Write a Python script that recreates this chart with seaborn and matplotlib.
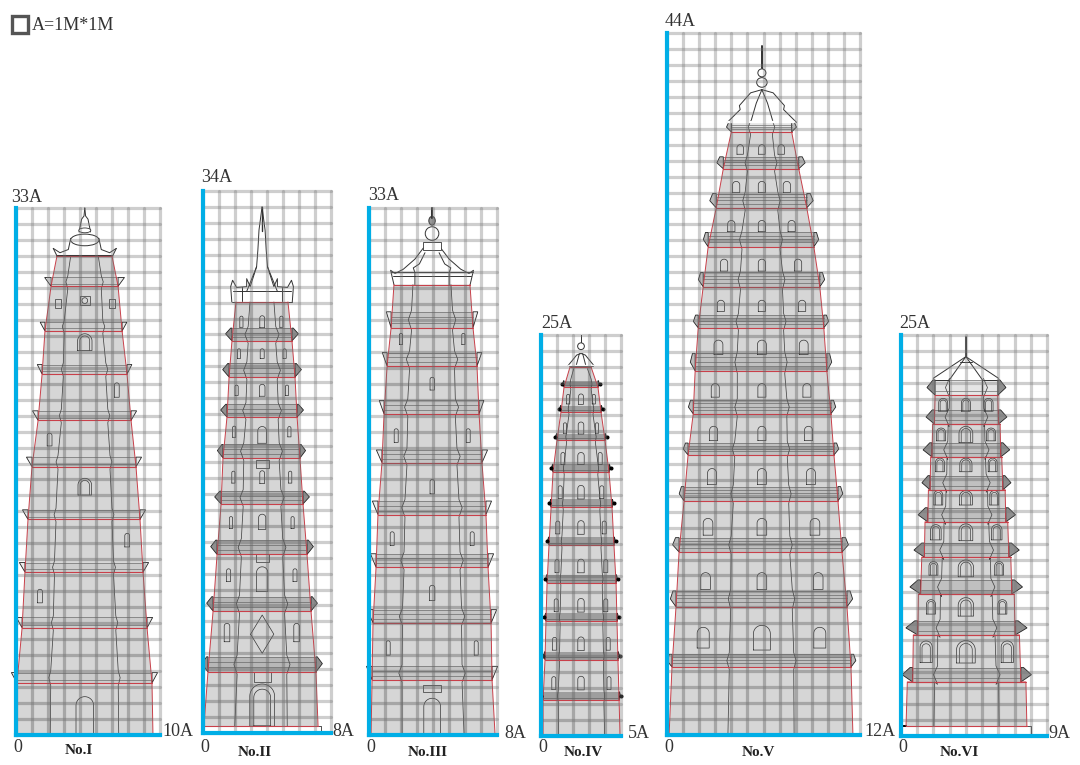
import numpy as np
import matplotlib
matplotlib.use("Agg")
import matplotlib.pyplot as plt
from matplotlib.patches import Rectangle, Ellipse
import seaborn as sns

W, H = 1080, 765
sns.set_theme(style="white")
plt.rcParams['font.family'] = ['Liberation Serif', 'DejaVu Serif']

BLUE = '#00aee6'; RED = '#c9404a'; FILL = '#d6d6d6'; INK = '#333333'

# ---------- Panel I ----------
levels1 = [0, 3.26, 6.71, 10.2, 13.5, 16.8, 19.7, 22.6, 25.3, 28.1, 30.0]
left1 = [0, .06, .38, .56, .75, 1.0, 1.38, 1.63, 1.81, 2.19, 2.56]
right1 = [8.56, 8.5, 8.19, 7.94, 7.75, 7.5, 7.19, 6.94, 6.63, 6.38, 6.0]
eave_h1 = [0, .65, .65, .6, .6, .6, .6, .6, .55, .55, 0]
eave_o1 = [0, .35, .35, .35, .35, .35, .35, .3, .3, .4, 0]
win1_x = [2.63, 4.3, 6.0, 4.3, 6.3, 2.1, 4.3, 6.95, 1.5, 4.3]
win1_y = [27.0, 27.2, 27.0, 24.6, 21.6, 18.5, 15.55, 12.2, 8.7, 1.2]
win1_w = [.38, .65, .38, .9, .3, .3, .85, .3, .3, 1.1]
win1_h = [.55, .6, .55, 1.05, .9, .8, 1.05, .85, .85, 2.4]
win1_k = ['b', 'q', 'b', 'd', 'r', 'r', 'd', 'r', 'r', 'a']
roof1_x = [[2.33, 2.75, 3.27, 3.42], [3.94, 4.1, 4.25, 4.3], [2.56, 2.33]]
roof1_y = [[30.47, 30.2, 30.4, 31.1], [31.5, 32.3, 32.5, 33.0], [30.0, 30.47]]

# ---------- Panel II ----------
levels2 = [.44, 3.83, 7.65, 11.2, 14.37, 17.25, 19.82, 22.33, 24.6, 27.04]
left2 = [.06, .31, .63, .88, 1.13, 1.25, 1.5, 1.63, 1.81, 2.06]
right2 = [7.19, 7.06, 6.75, 6.5, 6.25, 6.06, 5.88, 5.75, 5.56, 5.31]
eave_h2 = [0, .95, .9, .9, .8, .85, .8, .85, .8, 0]
eave_o2 = [0, .4, .4, .4, .4, .35, .4, .4, .4, 0]
win2_x = [2.4, 3.7, 4.9, 2.25, 3.7, 5.1, 2.1, 3.7, 5.25, 1.95, 3.7, 5.4, 3.7, 1.9, 3.7, 5.45,
          1.75, 3.7, 5.6, 3.7, 1.6, 3.7, 5.75, 1.5, 3.7, 5.85, 3.7, 3.7, 3.7]
win2_y = [25.8, 25.8, 25.8, 23.8, 23.8, 23.8, 21.5, 21.5, 21.5, 18.9, 18.7, 18.9, 16.9, 16.05, 16.05, 16.05,
          13.2, 13.25, 13.2, 11.0, 9.9, 9.65, 9.9, 6.3, 6.2, 6.3, 3.5, 1.75, 1.6]
win2_w = [.2, .3, .2, .2, .25, .2, .2, .35, .2, .2, .55, .2, .8, .2, .3, .2,
          .2, .45, .2, .8, .25, .7, .25, .35, 1.45, .35, 1.05, 1.55, 1.05]
win2_h = [.7, .75, .7, .6, .6, .6, .65, .75, .65, .7, 1.05, .65, .5, .75, .8, .75,
          .75, .95, .75, .5, .8, 1.55, .8, 1.15, 2.4, 1.15, .6, 2.65, 2.3]
win2_k = ['r', 'a', 'r', 'r', 'r', 'r', 'r', 'a', 'r', 'r', 'a', 'r', 'b', 'r', 'a', 'r',
          'r', 'a', 'r', 'b', 'r', 'a', 'r', 'r', 'v', 'r', 'b', 'a', 'a']
roof2_x = [[2.73, 3.35, 3.43, 3.5, 3.69], [1.73, 1.85, 2.1, 2.73, 2.73, 2.95, 3.35], [1.8, 1.73], [2.45, 2.45], [1.8, 3.69], [1.85, 3.69]]
roof2_y = [[27.7, 29.25, 30.3, 31.55, 33.0], [28.0, 28.4, 27.95, 28.0, 28.5, 28.0, 29.25], [27.04, 28.0], [27.1, 28.0], [27.04, 27.04], [27.7, 27.7]]

# ---------- Panel III ----------
levels3 = [0, 3.45, 7.0, 10.5, 13.8, 17.05, 20.1, 23.1, 25.5, 28.2]
left3 = [.13, .19, .25, .44, .56, .81, .94, 1.13, 1.38, 1.56]
right3 = [7.88, 7.69, 7.63, 7.44, 7.31, 7.06, 6.88, 6.75, 6.5, 6.31]
eave_h3 = [0, .85, .85, .85, .85, .8, .85, .85, 1.0, 0]
eave_o3 = [0, .35, .35, .35, .35, .35, .3, .3, .3, 0]
win3_x = [2.0, 5.9, 3.95, 1.7, 6.2, 3.95, 1.45, 6.45, 3.95, 1.2, 6.7, 3.95, 3.95]
win3_y = [24.8, 24.8, 22.0, 18.75, 18.75, 15.55, 12.3, 12.3, 8.9, 5.45, 5.45, 2.9, 1.15]
win3_w = [.2, .2, .27, .25, .25, .27, .25, .25, .33, .25, .25, 1.1, 1.05]
win3_h = [.7, .7, .8, .85, .85, .9, .85, .85, .95, .9, .9, .4, 2.3]
win3_k = ['r', 'r', 'r', 'r', 'r', 'r', 'r', 'r', 'r', 'r', 'r', 'b', 'a']
roof3_x = [[1.56, 1.35, 1.63, 2.15, 2.87, 3.4], [2.87, 2.87, 2.77, 3.15, 3.5], [1.35, 3.94], [1.5, 3.94]]
roof3_y = [[28.2, 29.1, 28.9, 29.17, 29.8, 30.5], [28.2, 28.95, 29.25, 29.5, 30.2], [29.0, 29.0], [28.75, 28.75]]

# ---------- Panel IV ----------
levels4 = [0, 2.25, 4.75, 7.15, 9.55, 11.9, 14.25, 16.45, 18.45, 20.2, 21.75, 23.0]
left4 = [.13, .13, .25, .31, .38, .5, .63, .75, 1.0, 1.25, 1.44, 1.81]
right4 = [4.94, 4.88, 4.81, 4.75, 4.69, 4.56, 4.44, 4.25, 4.0, 3.75, 3.56, 3.13]
eave_h4 = [0, .5, .5, .5, .5, .5, .5, .5, .4, .4, .4, 0]
eave_o4 = [0, .1, .1, .1, .1, .1, .1, .1, .1, .1, .1, 0]
win4_x = [1.7, 2.5, 3.3, 1.5, 2.5, 3.5, 1.37, 2.5, 3.7, 1.2, 2.5, 3.8, 1.05, 2.5, 3.95, 1.0, 2.5, 4.05, .95, 2.5, 4.05, .85, 2.5, 4.2, .8, 2.5, 4.25]
win4_y = [21.0] * 3 + [19.2] * 3 + [17.3] * 3 + [15.2] * 3 + [13.0] * 3 + [10.6] * 3 + [8.15] * 3 + [5.75] * 3 + [3.3] * 3
win4_w = [.2, .3, .2, .2, .35, .2] + [.25, .4, .25] * 7
win4_h = [.6, .65, .6, .65, .75, .65, .75, .75, .75] + [.8, .85, .8] * 6
win4_k = ['r', 'a', 'r'] * 9
roof4_x = [[1.7, 2.23, 2.5], [2.2, 2.4], [1.7, 3.3], [2.5, 2.5]]
roof4_y = [[23.1, 23.75, 23.85], [23.1, 23.85], [23.1, 23.1], [24.5, 25.0]]

# ---------- Panel V ----------
levels5 = [0, 4.26, 8.03, 11.47, 14.67, 17.55, 20.13, 22.82, 25.52, 28.09, 30.6, 33.04, 35.49, 37.8]
left5 = [.13, .31, .56, .75, 1.06, 1.31, 1.63, 1.75, 1.94, 2.25, 2.56, 3.06, 3.5, 4.0]
right5 = [11.56, 11.44, 11.19, 10.88, 10.63, 10.38, 10.19, 9.94, 9.75, 9.5, 9.13, 8.69, 8.19, 7.75]
eave_h5 = [0, .8, 1.0, .9, .9, .75, .85, 1.1, .8, .9, .9, .9, .75, .6]
eave_o5 = [0, .3, .35, .4, .3, .3, .3, .3, .3, .3, .3, .4, .4, .3]
win5_x = [4.55, 5.9, 7.1, 4.3, 5.9, 7.45, 4.0, 5.9, 7.75, 3.55, 5.9, 8.15, 3.35, 5.9, 8.4, 3.2, 5.9, 8.5,
          3.0, 5.9, 8.7, 2.9, 5.9, 8.8, 2.8, 5.9, 8.95, 2.55, 5.9, 9.2, 2.4, 5.9, 9.4, 2.25, 5.9, 9.5]
win5_y = [36.7] * 3 + [34.35] * 3 + [31.9] * 3 + [29.45] * 3 + [26.9] * 3 + [24.3] * 3 + [21.6] * 3 + [18.9] * 3 + [16.2] * 3 + [13.05] * 3 + [9.65] * 3 + [6.1] * 3
win5_w = [.4] * 3 + [.45] * 12 + [.55] * 3 + [.5] * 6 + [.55] * 3 + [.6] * 6 + [.75, 1.05, .75]
win5_h = [.6] * 3 + [.7] * 6 + [.75] * 3 + [.7] * 3 + [.9] * 3 + [.85] * 3 + [.9] * 3 + [1.0] * 3 + [1.05] * 6 + [1.3, 1.55, 1.3]
win5_k = ['a'] * 36
roof5_x = [[3.75, 4.55, 4.5, 5.2, 5.9], [5.2, 5.55, 5.9], [5.9, 5.9]]
roof5_y = [[38.4, 39.2, 39.45, 40.25, 40.45], [38.4, 39.6, 40.45], [41.8, 43.2]]

# ---------- Panel VI ----------
levels6 = [.62, 3.37, 3.37, 6.3, 6.3, 8.85, 8.85, 11.15, 11.15, 13.35, 13.35, 15.35, 15.35, 17.4, 17.4, 19.45, 19.45, 21.25]
left6 = [.31, .39, .72, .76, 1.03, 1.07, 1.21, 1.28, 1.44, 1.48, 1.65, 1.69, 1.79, 1.83, 1.91, 1.95, 2.06, 2.1]
right6 = [7.76, 7.7, 7.39, 7.3, 7.04, 6.98, 6.83, 6.77, 6.65, 6.58, 6.46, 6.42, 6.28, 6.21, 6.15, 6.11, 6.01, 5.97]
eave_h6 = [0, 0, .9, 0, .88, 0, .88, 0, .88, 0, .88, 0, .88, 0, .88, 0, .88, .95]
eave_o6 = [0, 0, .65, 0, .73, 0, .66, 0, .64, 0, .6, 0, .5, 0, .55, 0, .52, .5]
win6_x = [2.6, 4.0, 5.4, 2.47, 4.0, 5.55, 2.4, 4.0, 5.65, 2.3, 4.0, 5.75, 2.15, 4.0, 5.9, 2.0, 4.0, 6.05, 1.85, 4.0, 6.25, 1.55, 4.0, 6.55]
win6_y = [20.65] * 3 + [18.8] * 3 + [16.9] * 3 + [14.85] * 3 + [12.7] * 3 + [10.45] * 3 + [8.05] * 3 + [5.25] * 3
win6_w = [.55, .55, .55, .55, .85, .55, .55, .75, .55, .55, .8, .55, .65, .85, .65, .55, .95, .55, .55, .95, .55, .75, 1.15, .75]
win6_h = [.8, .8, .8, .8, 1.0, .8, .85, .85, .85, .9, .9, .9, .95, 1.05, .95, .85, 1.05, .85, .9, 1.15, .9, 1.35, 1.4, 1.35]
win6_k = ['d'] * 24
roof6_x = [[1.99, 4.0], [2.98, 4.0], [4.0, 4.0], [3.65, 4.0], [2.1, 2.98, 2.98]]
roof6_y = [[22.3, 23.65], [22.2, 23.65], [23.65, 24.9], [23.3, 23.3], [22.2, 22.2, 21.25]]

# ---------- Panel table ----------
names = ['No.I', 'No.II', 'No.III', 'No.IV', 'No.V', 'No.VI']
top_labels = ['33A', '34A', '33A', '25A', '44A', '25A']
right_labels = ['10A', '8A', '8A', '5A', '12A', '9A']
cells_x = [9, 8, 8, 5, 12, 9]
cells_y = [33, 34, 33, 25, 44, 25]
centres = [4.3, 3.69, 3.94, 2.5, 5.9, 4.0]
boxes = [(16, 160, 208, 735), (203, 331, 191, 733), (369, 497, 208, 735),
         (541, 621, 335, 736), (667, 860, 33, 735), (901, 1047, 335, 736)]
top_xy = [(11, 197), (201, 178), (368, 196), (541, 323), (665, 22), (899, 323)]
right_xy = [(162, 731), (332, 732), (504, 733), (628, 733), (864, 732), (1048, 733)]
name_xy = [(79, 751), (255, 752), (428, 752), (583, 752), (758, 752), (959, 752)]
inner = [(.25, .12), (.27, .2), (.25, .2), (.2, .05), (.32, .15), (.23, .25)]
styles = [dict(t=1.0, top=1.0, band=.04, lines=2, tip='#ececec'),
          dict(t=.55, top=.2, band=.14, lines=3, tip='#8f8f8f'),
          dict(t=1.0, top=1.0, band=.08, lines=3, tip='#ececec'),
          dict(t=.5, top=.3, band=.26, lines=1, tip='#555555'),
          dict(t=.5, top=.55, band=.10, lines=4, tip='#bbbbbb'),
          dict(t=.5, top=.25, band=.10, lines=2, tip='#8f8f8f')]
walls = [(levels1, left1, right1, eave_h1, eave_o1), (levels2, left2, right2, eave_h2, eave_o2),
         (levels3, left3, right3, eave_h3, eave_o3), (levels4, left4, right4, eave_h4, eave_o4),
         (levels5, left5, right5, eave_h5, eave_o5), (levels6, left6, right6, eave_h6, eave_o6)]
windows = [(win1_x, win1_y, win1_w, win1_h, win1_k), (win2_x, win2_y, win2_w, win2_h, win2_k),
           (win3_x, win3_y, win3_w, win3_h, win3_k), (win4_x, win4_y, win4_w, win4_h, win4_k),
           (win5_x, win5_y, win5_w, win5_h, win5_k), (win6_x, win6_y, win6_w, win6_h, win6_k)]
roofs = [(roof1_x, roof1_y), (roof2_x, roof2_y), (roof3_x, roof3_y), (roof4_x, roof4_y), (roof5_x, roof5_y), (roof6_x, roof6_y)]


def ink(ax, xs, ys, lw=.55, color=INK, z=2.1):
    ax.plot(xs, ys, color=color, lw=lw, zorder=z, clip_on=False, solid_capstyle='round')


def arch_path(x, y, w, h):
    th = np.linspace(np.pi, 0, 25)
    r = w / 2
    c = y + h / 2 - r
    xs = np.r_[x - r, x + r * np.cos(th), x + r]
    ys = np.r_[y - h / 2, c + r * np.sin(th), y - h / 2]
    return xs, ys


def window(ax, x, y, w, h, k):
    if k in ('b', 'q'):
        ax.add_patch(Rectangle((x - w / 2, y - h / 2), w, h, fill=False, ec=INK, lw=.5, zorder=2.1))
        if k == 'q':
            ax.add_patch(Ellipse((x, y), w * .55, h * .6, fill=False, ec=INK, lw=.5, zorder=2.1))
    elif k == 'v':
        ink(ax, [x - w / 2, x, x + w / 2, x, x - w / 2], [y, y + h / 2, y, y - h / 2, y], lw=.5)
    else:
        xs, ys = arch_path(x, y, w, h)
        ink(ax, np.r_[xs, xs[0]], np.r_[ys, ys[0]], lw=.5)
        if k == 'd':
            xs, ys = arch_path(x, y - h * .06, w * .68, h * .86)
            ink(ax, xs, ys, lw=.45)


def eave(ax, L, l, r, h, o, st, dots):
    ax.add_patch(Rectangle((l, L), r - l, h, fc='black', ec='none', alpha=st['band'], zorder=1.5))
    for frac in np.linspace(.3, 1, st['lines']):
        ink(ax, [l, r], [L + h * frac] * 2, lw=.4, color='#555555')
    for wall, s in ((l, -1), (r, 1)):
        px = [wall, wall + s * o, wall + s * o * st['top'], wall]
        py = [L, L + st['t'] * h, L + h, L + h]
        ax.fill(px, py, fc=st['tip'], ec='#222222', lw=.6, zorder=2.05, clip_on=False)
        if dots:
            ax.plot([wall + s * o], [L + h / 2], 'o', ms=1.9, color='black', zorder=2.2, clip_on=False)


fig = plt.figure(figsize=(W / 100, H / 100), dpi=100)
for i, name in enumerate(names):
    x0, x1, y0, y1 = boxes[i]
    ax = fig.add_axes([x0 / W, 1 - y1 / H, (x1 - x0) / W, (y1 - y0) / H])
    ax.patch.set_alpha(0)
    nx, ny = cells_x[i], cells_y[i]
    ax.set_xlim(0, nx); ax.set_ylim(0, ny)
    ax.set_xticks(range(nx + 1)); ax.set_yticks(range(ny + 1))
    ax.tick_params(left=False, bottom=False, labelleft=False, labelbottom=False)
    ax.set_axisbelow(False)
    ax.grid(True, color='#777777', alpha=.36, lw=2.3)
    for g in ax.get_xgridlines() + ax.get_ygridlines():
        g.set_clip_on(False); g.set_zorder(2.5)
    for s in ('top', 'right'):
        ax.spines[s].set_visible(False)
    for s in ('left', 'bottom'):
        ax.spines[s].set_color(BLUE); ax.spines[s].set_linewidth(3.0); ax.spines[s].set_zorder(6)

    lev, lft, rgt, eh, eo = [np.array(a, float) for a in walls[i]]
    poly = ax.fill(np.r_[lft, rgt[::-1]], np.r_[lev, lev[::-1]], color=FILL, lw=0, zorder=1)[0]
    # the grid reads darker where it crosses the body of the tower
    vv = ax.vlines(range(nx + 1), 0, ny, color='black', alpha=.09, lw=2.3, zorder=2.45)
    hh = ax.hlines(range(ny + 1), 0, nx, color='black', alpha=.09, lw=2.3, zorder=2.45)
    vv.set_clip_path(poly); hh.set_clip_path(poly)

    for side in (lft, rgt):
        sns.lineplot(x=side, y=lev, sort=False, estimator=None, color=RED, lw=.7, ax=ax, legend=False, zorder=2.2)
    for L, l, r in zip(lev, lft, rgt):
        if L > 0.1:
            ax.plot([l, r], [L, L], color=RED, lw=.8, zorder=2.2)

    f, bump = inner[i]
    for frac, sgn in ((f, -1), (1 - f, 1)):
        px, py = [], []
        for L, l, r, h in zip(lev, lft, rgt, eh):
            xi = l + frac * (r - l)
            if h > 0:
                px += [xi, xi + sgn * bump, xi]
                py += [L - .15, L + h / 2, L + h + .1]
            else:
                px.append(xi); py.append(L)
        ink(ax, px, py, lw=.55, color='#444444')

    for L, l, r, h, o in zip(lev, lft, rgt, eh, eo):
        if h > 0:
            eave(ax, L, l, r, h, o, styles[i], i == 3)

    for wx, wy, ww, wh, wk in zip(*windows[i]):
        window(ax, wx, wy, ww, wh, wk)

    c = centres[i]
    for rx, ry in zip(*roofs[i]):
        rx = np.array(rx, float)
        ink(ax, rx, ry, lw=.7)
        ink(ax, 2 * c - rx, ry, lw=.7)

    # roof ornaments
    if i == 0:
        ink(ax, [lft[-1], rgt[-1]], [30, 30], lw=1.3, color='black')
        ax.add_patch(Ellipse((c, 31.0), 1.77, .73, fc='white', ec=INK, lw=.7, zorder=2.1))
        ax.add_patch(Ellipse((c, 31.6), .75, .3, fc='white', ec=INK, lw=.6, zorder=2.1))
    if i == 1:
        ink(ax, [c, c], [31.5, 33], lw=1.0)
        ink(ax, [.06, 7.19, 7.4, 7.4], [.44, .44, .44, 0], lw=.6)
    if i == 2:
        ax.add_patch(Ellipse((c, 31.4), .85, .85, fc='white', ec=INK, lw=.7, zorder=2.1))
        ax.add_patch(Ellipse((c, 32.2), .4, .55, fc='#999999', ec=INK, lw=.7, zorder=2.1))
        ax.add_patch(Rectangle((c - .58, 30.4), 1.16, .45, fc='white', ec=INK, lw=.6, zorder=2.1))
        ink(ax, [c, c], [32.4, 33], lw=1.5)
    if i == 3:
        ax.add_patch(Ellipse((c, 24.3), .42, .42, fc='white', ec=INK, lw=.7, zorder=2.1))
        ax.add_patch(Rectangle((1.7, 23.0), 1.6, .15, fc='black', zorder=2.1))
    if i == 4:
        ax.add_patch(Rectangle((3.75, 38.4), 4.15, .1, fc='black', zorder=2.1))
        ax.add_patch(Ellipse((c, 40.9), .65, .6, fc='white', ec=INK, lw=.7, zorder=2.1))
        ax.add_patch(Ellipse((c, 41.5), .5, .5, fc='white', ec=INK, lw=.7, zorder=2.1))
        ink(ax, [c, c], [41.8, 43.2], lw=1.4)
    if i == 5:
        ink(ax, [c, c], [23.65, 24.9], lw=1.3)
        ink(ax, [7.76, 8.0, 8.0], [.62, .62, 0], lw=.6)
        ink(ax, [.1, .31], [.62, .62], lw=1.4, color='black')

    px = lambda xp, yp: (xp / W, 1 - yp / H)
    fig.text(*px(*top_xy[i]), top_labels[i], fontsize=13, color=INK, va='center', ha='left')
    fig.text(*px(*right_xy[i]), right_labels[i], fontsize=13, color=INK, va='center', ha='left')
    fig.text(*px(x0 + 2, 747), '0', fontsize=13, color=INK, va='center', ha='center')
    fig.text(*px(*name_xy[i]), name, fontsize=11, fontweight='bold', color='#222222', va='center', ha='center')

fig.add_artist(Rectangle((11.5 / W, 1 - 33 / H), 16 / W, 17 / H, transform=fig.transFigure, fill=False, ec='#555555', lw=2.4))
fig.text(32 / W, 1 - 25 / H, 'A=1M*1M', fontsize=13, color=INK, va='center', ha='left')

fig.savefig('out.png', dpi=100)
